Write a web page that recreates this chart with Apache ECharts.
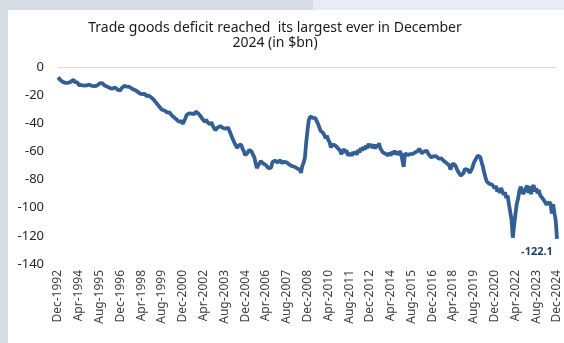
<!DOCTYPE html>
<html>
<head>
<meta charset="utf-8">
<script src="https://cdn.jsdelivr.net/npm/echarts@6/dist/echarts.min.js"></script>
<style>
    html, body { margin: 0; padding: 0; background: #ffffff; }
    #chart { width: 564px; height: 343px; }
</style>
</head>
<body>
<div id="chart"></div>
<script>
const MONTH_NAMES = ["Jan", "Feb", "Mar", "Apr", "May", "Jun", "Jul", "Aug", "Sep", "Oct", "Nov", "Dec"];
const FIRST_YEAR = 1993;
const LAST_YEAR = 2024;

const TITLE_TEXT = "Trade goods deficit reached  its largest ever in December\n2024 (in $bn)";
const Y_TICKS = [0, -20, -40, -60, -80, -100, -120, -140];

// Monthly goods balance, $bn (Dec-1992 .. Dec-2024)
const deficitDec1992 = [-7.4];
const deficit1993 = [-8.6, -9.4, -8.9, -10.8, -10.1, -11.3, -10.6, -11.2, -10.0, -10.4, -9.3, -9.0];
const deficit1994 = [-10.7, -11.9, -11.0, -12.9, -13.6, -12.8, -14.1, -13.2, -14.3, -13.1, -13.4, -12.5];
const deficit1995 = [-12.9, -13.4, -14.5, -13.6, -14.8, -13.2, -12.7, -11.6, -12.1, -11.5, -12.9, -13.3];
const deficit1996 = [-12.6, -13.9, -14.1, -15.0, -14.2, -15.3, -15.7, -14.6, -15.8, -16.3, -15.5, -16.6];
const deficit1997 = [-15.0, -13.6, -13.4, -14.0, -13.9, -15.1, -14.2, -15.3, -15.4, -15.0, -16.3, -16.1];
const deficit1998 = [-17.4, -17.6, -18.9, -18.1, -19.3, -19.6, -19.1, -20.6, -19.5, -20.4, -20.5, -21.8];
const deficit1999 = [-22.0, -23.6, -24.6, -26.0, -26.6, -28.2, -29.0, -30.4, -29.2, -30.9, -31.2, -32.4];
const deficit2000 = [-33.1, -32.2, -33.9, -34.3, -35.6, -35.9, -37.1, -37.6, -38.9, -39.2, -38.5, -40.4];
const deficit2001 = [-39.4, -36.6, -34.0, -34.1, -33.0, -34.3, -33.2, -32.9, -33.5, -31.6, -32.8, -33.1];
const deficit2002 = [-34.4, -35.3, -36.8, -37.5, -38.9, -37.3, -39.2, -39.4, -40.7, -39.2, -41.6, -43.2];
const deficit2003 = [-44.9, -43.6, -42.9, -43.1, -42.0, -43.2, -43.4, -42.6, -43.8, -44.0, -43.2, -45.5];
const deficit2004 = [-46.3, -50.2, -52.2, -54.4, -55.7, -57.5, -55.6, -54.9, -55.2, -58.1, -59.8, -62.7];
const deficit2005 = [-61.5, -60.8, -59.0, -59.1, -60.0, -62.4, -64.0, -67.9, -71.9, -70.1, -68.6, -66.9];
const deficit2006 = [-68.1, -68.6, -67.2, -69.7, -70.0, -71.9, -72.6, -71.5, -67.6, -66.4, -66.5, -67.6];
const deficit2007 = [-67.8, -67.5, -66.2, -68.2, -68.1, -67.4, -66.4, -67.8, -68.0, -69.3, -68.3, -70.5];
const deficit2008 = [-71.1, -70.9, -72.0, -72.1, -72.8, -72.8, -75.2, -70.3, -68.0, -64.5, -53.6, -45.2];
const deficit2009 = [-37.9, -35.2, -34.8, -36.1, -35.4, -36.3, -37.5, -40.2, -42.6, -45.3, -44.1, -46.8];
const deficit2010 = [-48.5, -50.6, -48.8, -51.9, -53.5, -57.2, -55.4, -54.6, -55.5, -56.8, -57.3, -58.6];
const deficit2011 = [-59.4, -61.8, -60.3, -58.2, -60.9, -59.1, -62.7, -63.8, -61.5, -63.2, -60.4, -61.9];
const deficit2012 = [-60.1, -62.3, -58.9, -60.8, -57.6, -59.4, -56.8, -58.7, -55.9, -57.8, -54.6, -56.9];
const deficit2013 = [-54.8, -57.6, -55.1, -58.0, -55.3, -56.9, -54.2, -57.8, -58.9, -60.7, -59.4, -61.6];
const deficit2014 = [-60.2, -62.9, -61.0, -63.1, -60.2, -61.8, -59.5, -61.9, -60.1, -62.5, -59.8, -61.6];
const deficit2015 = [-62.8, -70.9, -61.4, -60.6, -62.5, -62.7, -61.9, -62.4, -61.8, -61.0, -60.6, -59.6];
const deficit2016 = [-59.6, -58.1, -58.9, -61.3, -60.1, -59.9, -60.6, -59.7, -61.8, -62.6, -64.2, -63.8];
const deficit2017 = [-63.5, -62.2, -63.3, -63.4, -65.2, -64.8, -64.9, -65.0, -66.8, -66.9, -68.3, -68.4];
const deficit2018 = [-69.8, -72.9, -70.2, -68.5, -68.1, -70.3, -72.8, -74.5, -75.9, -77.2, -78.1, -75.4];
const deficit2019 = [-72.6, -71.2, -72.9, -73.8, -75.1, -74.2, -71.3, -68.1, -66.4, -64.7, -62.9, -62.3];
const deficit2020 = [-64.1, -67.8, -70.9, -75.2, -78.6, -81.4, -82.3, -83.1, -84.2, -83.5, -84.8, -86.1];
const deficit2021 = [-84.6, -88.5, -86.1, -89.6, -85.9, -88.7, -90.8, -89.1, -93.2, -91.4, -97.5, -96.1];
const deficit2022 = [-108.5, -121.3, -112.4, -104.6, -97.3, -93.8, -88.2, -85.1, -87.4, -90.3, -88.9, -86.2];
const deficit2023 = [-84.2, -89.5, -84.8, -90.3, -85.6, -83.9, -88.4, -86.1, -89.7, -87.3, -91.2, -92.4];
const deficit2024 = [-93.4, -94.8, -96.2, -97.9, -96.4, -95.3, -96.8, -104.2, -97.5, -103.6, -108.9, -122.1];

const deficit = [].concat(
    deficitDec1992,
    deficit1993, deficit1994, deficit1995, deficit1996, deficit1997, deficit1998,
    deficit1999, deficit2000, deficit2001, deficit2002, deficit2003, deficit2004,
    deficit2005, deficit2006, deficit2007, deficit2008, deficit2009, deficit2010,
    deficit2011, deficit2012, deficit2013, deficit2014, deficit2015, deficit2016,
    deficit2017, deficit2018, deficit2019, deficit2020, deficit2021, deficit2022,
    deficit2023, deficit2024
);

// Category labels: Dec-1992, Jan-1993, ... Dec-2024
const categories = ["Dec-1992"];
for (let y = FIRST_YEAR; y <= LAST_YEAR; y++) {
    for (const m of MONTH_NAMES) categories.push(`${m}-${y}`);
}

const LINE_COLOR = "#335f95";
const FONT = "Noto Sans";

const lastIdx = deficit.length - 1;

const chart = echarts.init(document.getElementById("chart"));

chart.setOption({
    animation: false,
    backgroundColor: "#ffffff",
    graphic: [
        { type: "rect", left: 0, top: 0, shape: { width: 8, height: 343 }, style: { fill: "#d6dce4" } },
        { type: "rect", left: 0, top: 0, shape: { width: 313, height: 10 }, style: { fill: "#d6dce4" } },
        { type: "rect", left: 313, top: 0, shape: { width: 251, height: 10 }, style: { fill: "#e8ecf4" } }
    ],
    title: {
        text: TITLE_TEXT,
        left: 270,
        top: 16,
        textAlign: "center",
        textStyle: {
            fontFamily: FONT,
            fontSize: 14,
            fontWeight: "normal",
            color: "#1a1a1a",
            lineHeight: 15
        }
    },
    grid: { left: 58, right: 7, top: 67, bottom: 79 },
    xAxis: {
        type: "category",
        data: categories,
        boundaryGap: false,
        axisLine: { show: false },
        axisTick: { show: false },
        axisLabel: {
            interval: 15,
            rotate: 90,
            margin: 6,
            color: "#404040",
            fontFamily: FONT,
            fontSize: 12
        }
    },
    yAxis: {
        type: "value",
        min: Y_TICKS[Y_TICKS.length - 1],
        max: Y_TICKS[0],
        interval: 20,
        axisLine: { show: false },
        axisTick: { show: false },
        splitLine: { show: false },
        axisLabel: {
            margin: 14,
            color: "#262626",
            fontFamily: FONT,
            fontSize: 13
        }
    },
    series: [{
        type: "line",
        data: deficit,
        showSymbol: false,
        symbol: "none",
        lineStyle: { color: LINE_COLOR, width: 3.8 },
        itemStyle: { color: LINE_COLOR },
        markLine: {
            silent: true,
            symbol: "none",
            label: { show: false },
            lineStyle: { color: "#d9d9d9", width: 1, type: "solid" },
            data: [{ yAxis: 0 }]
        },
        markPoint: {
            silent: true,
            symbol: "circle",
            symbolSize: 1,
            itemStyle: { color: "rgba(0,0,0,0)" },
            label: {
                show: true,
                position: "bottom",
                offset: [-20, 2],
                formatter: p => p.value.toFixed(1),
                color: "#1f3f6b",
                fontWeight: "bold",
                fontSize: 11,
                fontFamily: FONT
            },
            data: [{ coord: [lastIdx, deficit[lastIdx]], value: deficit[lastIdx] }]
        },
        z: 3
    }]
});
</script>
</body>
</html>
